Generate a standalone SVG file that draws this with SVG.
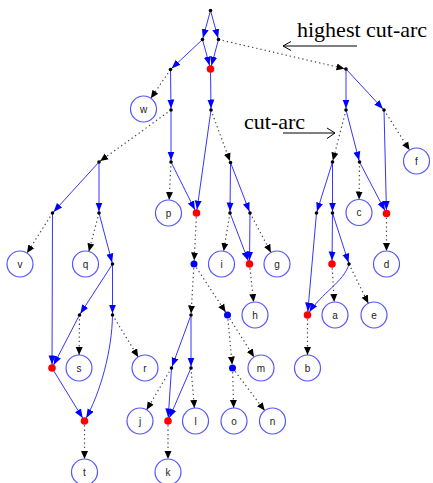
<svg xmlns="http://www.w3.org/2000/svg" width="433" height="483" viewBox="0 0 433 483">
<style>
.b{stroke:#3535ff;stroke-width:1;fill:none}
.k{stroke:#444;stroke-width:1.2;stroke-dasharray:1.3,3;fill:none}
.pt{fill:#000}
.rd{fill:#ff0000}
.bd{fill:#0000ff}
.c circle{fill:#fff;stroke:#5555ff;stroke-width:1.2}
.c text{font-family:"Liberation Sans",Arial,sans-serif;font-size:10px;fill:#222;text-anchor:middle}
.lbl{font-family:"Liberation Serif","Times New Roman",serif;font-size:22px;fill:#000}
.ar{stroke:#000;stroke-width:1;fill:none}
</style>
<defs>
<marker id="abP" viewBox="0 0 14 10" refX="10.5" refY="5" markerWidth="14" markerHeight="10" markerUnits="userSpaceOnUse" orient="auto"><path d="M0,1.5 L9,5 L0,8.5 z" fill="#0000ff"/></marker>
<marker id="abD" viewBox="0 0 20 10" refX="12.5" refY="5" markerWidth="20" markerHeight="10" markerUnits="userSpaceOnUse" orient="auto"><path d="M0,1.5 L9,5 L0,8.5 z" fill="#0000ff"/></marker>
<marker id="akP" viewBox="0 0 14 10" refX="9.5" refY="5" markerWidth="14" markerHeight="10" markerUnits="userSpaceOnUse" orient="auto"><path d="M0,1.5 L8,5 L0,8.5 z" fill="#000"/></marker>
<marker id="akD" viewBox="0 0 20 10" refX="11.5" refY="5" markerWidth="20" markerHeight="10" markerUnits="userSpaceOnUse" orient="auto"><path d="M0,1.5 L8,5 L0,8.5 z" fill="#000"/></marker>
<marker id="akC" viewBox="0 0 24 10" refX="21" refY="5" markerWidth="24" markerHeight="10" markerUnits="userSpaceOnUse" orient="auto"><path d="M0,1.5 L8,5 L0,8.5 z" fill="#000"/></marker>
</defs>
<g id="connectors">
<path class="b" d="M210.5,10.5 L202.5,39.5" marker-end="url(#abP)"/>
<path class="b" d="M210.5,10.5 L218.5,39.5" marker-end="url(#abP)"/>
<path class="b" d="M202.5,39.5 L210.5,69" marker-end="url(#abD)"/>
<path class="b" d="M218.5,39.5 L210.5,69" marker-end="url(#abD)"/>
<path class="b" d="M202.5,39.5 L170.5,69.5" marker-end="url(#abP)"/>
<path class="b" d="M170.5,69.5 L171,110" marker-end="url(#abP)"/>
<path class="b" d="M210.5,69 L211,110" marker-end="url(#abP)"/>
<path class="b" d="M346,69 L346,110" marker-end="url(#abP)"/>
<path class="b" d="M346,69 L384,110" marker-end="url(#abP)"/>
<path class="b" d="M171,110 L171,162" marker-end="url(#abP)"/>
<path class="b" d="M171,162 L196.5,213" marker-end="url(#abD)"/>
<path class="b" d="M211,110 L196.5,213" marker-end="url(#abD)"/>
<path class="b" d="M230.5,162.5 L230,213" marker-end="url(#abP)"/>
<path class="b" d="M230.5,162.5 L250,213" marker-end="url(#abP)"/>
<path class="b" d="M230,213 L249.5,264" marker-end="url(#abD)"/>
<path class="b" d="M250,213 L249.5,264" marker-end="url(#abD)"/>
<path class="b" d="M99,162 L52.5,213" marker-end="url(#abP)"/>
<path class="b" d="M99,162 L99,213" marker-end="url(#abP)"/>
<path class="b" d="M99,213 L112.5,264" marker-end="url(#abP)"/>
<path class="b" d="M52.5,213 L52,368" marker-end="url(#abD)"/>
<path class="b" d="M112.5,264 L79.5,315" marker-end="url(#abP)"/>
<path class="b" d="M112.5,264 L112.5,315" marker-end="url(#abP)"/>
<path class="b" d="M79.5,315 L52,368" marker-end="url(#abD)"/>
<path class="b" d="M52,368 L84.5,421" marker-end="url(#abD)"/>
<path class="b" d="M112.5,315 C112,350 101,392 84.5,421" marker-end="url(#abD)"/>
<path class="b" d="M191,315 L171.5,368" marker-end="url(#abP)"/>
<path class="b" d="M191,315 L191,368" marker-end="url(#abP)"/>
<path class="b" d="M171.5,368 L168,421" marker-end="url(#abD)"/>
<path class="b" d="M191,368 L168,421" marker-end="url(#abD)"/>
<path class="b" d="M346,110 L359.5,162" marker-end="url(#abP)"/>
<path class="b" d="M384,110 L386.5,213.5" marker-end="url(#abD)"/>
<path class="b" d="M359.5,162 L386.5,213.5" marker-end="url(#abD)"/>
<path class="b" d="M332.5,162 L316.5,213" marker-end="url(#abP)"/>
<path class="b" d="M332.5,162 L332.5,213" marker-end="url(#abP)"/>
<path class="b" d="M316.5,213 L307.5,315" marker-end="url(#abD)"/>
<path class="b" d="M332.5,213 L332,264" marker-end="url(#abD)"/>
<path class="b" d="M332.5,213 L349,264" marker-end="url(#abP)"/>
<path class="b" d="M349,264 C344,282 322,292 307.5,315" marker-end="url(#abD)"/>
<path class="k" d="M170.5,69.5 L143.5,109" marker-end="url(#akC)"/>
<path class="k" d="M218.5,39.5 L346,69" marker-end="url(#akP)"/>
<path class="k" d="M171,110 L99,162" marker-end="url(#akP)"/>
<path class="k" d="M211,110 L230.5,162.5" marker-end="url(#akP)"/>
<path class="k" d="M52.5,213 L20,264" marker-end="url(#akC)"/>
<path class="k" d="M99,213 L85.5,264" marker-end="url(#akC)"/>
<path class="k" d="M171,162 L168.5,213" marker-end="url(#akC)"/>
<path class="k" d="M196.5,213 L194,264" marker-end="url(#akD)"/>
<path class="k" d="M230,213 L221.5,264" marker-end="url(#akC)"/>
<path class="k" d="M250,213 L277,264" marker-end="url(#akC)"/>
<path class="k" d="M249.5,264 L255,315" marker-end="url(#akC)"/>
<path class="k" d="M79.5,315 L79,368" marker-end="url(#akC)"/>
<path class="k" d="M112.5,315 L145,368" marker-end="url(#akC)"/>
<path class="k" d="M84.5,421 L84.5,472" marker-end="url(#akC)"/>
<path class="k" d="M194,264 L191,315" marker-end="url(#akP)"/>
<path class="k" d="M194,264 L227.5,315" marker-end="url(#akD)"/>
<path class="k" d="M171.5,368 L140,421" marker-end="url(#akC)"/>
<path class="k" d="M191,368 L195.5,421" marker-end="url(#akC)"/>
<path class="k" d="M227.5,315 L261,368" marker-end="url(#akC)"/>
<path class="k" d="M227.5,315 L232.5,368" marker-end="url(#akD)"/>
<path class="k" d="M168,421 L168,472" marker-end="url(#akC)"/>
<path class="k" d="M232.5,368 L234,421" marker-end="url(#akC)"/>
<path class="k" d="M232.5,368 L272.5,421" marker-end="url(#akC)"/>
<path class="k" d="M346,110 L332.5,162" marker-end="url(#akP)"/>
<path class="k" d="M384,110 L416.5,161" marker-end="url(#akC)"/>
<path class="k" d="M359.5,162 L359,212.5" marker-end="url(#akC)"/>
<path class="k" d="M386.5,213.5 L386.5,264" marker-end="url(#akC)"/>
<path class="k" d="M332,264 L335,315" marker-end="url(#akC)"/>
<path class="k" d="M349,264 L374,315" marker-end="url(#akC)"/>
<path class="k" d="M307.5,315 L307.5,368" marker-end="url(#akC)"/>
</g>
<g id="annotations">
<text class="lbl" x="297" y="37">highest cut-arc</text>
<path class="ar" d="M357,46 L283,46 M291,41.5 L283,46 L291,50.5"/>
<text class="lbl" x="244" y="129">cut-arc</text>
<path class="ar" d="M283,133 L335,133 M327,128 L335,133 L327,138.5"/>
</g>
<g id="n_root"><circle class="pt" cx="210.5" cy="10.5" r="1.8"/></g>
<g id="n_A"><circle class="pt" cx="202.5" cy="39.5" r="1.8"/></g>
<g id="n_B"><circle class="pt" cx="218.5" cy="39.5" r="1.8"/></g>
<g id="n_R1"><circle class="rd" cx="210.5" cy="69" r="3.8"/></g>
<g id="n_C"><circle class="pt" cx="170.5" cy="69.5" r="1.8"/></g>
<g id="n_D"><circle class="pt" cx="346" cy="69" r="1.8"/></g>
<g id="n_K"><circle class="pt" cx="171" cy="110" r="1.8"/></g>
<g id="n_L"><circle class="pt" cx="211" cy="110" r="1.8"/></g>
<g id="n_U"><circle class="pt" cx="346" cy="110" r="1.8"/></g>
<g id="n_V"><circle class="pt" cx="384" cy="110" r="1.8"/></g>
<g id="n_E"><circle class="pt" cx="99" cy="162" r="1.8"/></g>
<g id="n_M"><circle class="pt" cx="171" cy="162" r="1.8"/></g>
<g id="n_N"><circle class="pt" cx="230.5" cy="162.5" r="1.8"/></g>
<g id="n_W"><circle class="pt" cx="332.5" cy="162" r="1.8"/></g>
<g id="n_X"><circle class="pt" cx="359.5" cy="162" r="1.8"/></g>
<g id="n_F"><circle class="pt" cx="52.5" cy="213" r="1.8"/></g>
<g id="n_G"><circle class="pt" cx="99" cy="213" r="1.8"/></g>
<g id="n_R4"><circle class="rd" cx="196.5" cy="213" r="3.8"/></g>
<g id="n_O"><circle class="pt" cx="230" cy="213" r="1.8"/></g>
<g id="n_P"><circle class="pt" cx="250" cy="213" r="1.8"/></g>
<g id="n_Y"><circle class="pt" cx="316.5" cy="213" r="1.8"/></g>
<g id="n_Z"><circle class="pt" cx="332.5" cy="213" r="1.8"/></g>
<g id="n_R7"><circle class="rd" cx="386.5" cy="213.5" r="3.8"/></g>
<g id="n_H"><circle class="pt" cx="112.5" cy="264" r="1.8"/></g>
<g id="n_BL1"><circle class="bd" cx="194" cy="264" r="3.5"/></g>
<g id="n_R5"><circle class="rd" cx="249.5" cy="264" r="3.8"/></g>
<g id="n_R8"><circle class="rd" cx="332" cy="264" r="3.8"/></g>
<g id="n_AA"><circle class="pt" cx="349" cy="264" r="1.8"/></g>
<g id="n_I"><circle class="pt" cx="79.5" cy="315" r="1.8"/></g>
<g id="n_J"><circle class="pt" cx="112.5" cy="315" r="1.8"/></g>
<g id="n_Q"><circle class="pt" cx="191" cy="315" r="1.8"/></g>
<g id="n_BL2"><circle class="bd" cx="227.5" cy="315" r="3.5"/></g>
<g id="n_R9"><circle class="rd" cx="307.5" cy="315" r="3.8"/></g>
<g id="n_R2"><circle class="rd" cx="52" cy="368" r="3.8"/></g>
<g id="n_S"><circle class="pt" cx="171.5" cy="368" r="1.8"/></g>
<g id="n_T"><circle class="pt" cx="191" cy="368" r="1.8"/></g>
<g id="n_BL3"><circle class="bd" cx="232.5" cy="368" r="3.5"/></g>
<g id="n_R3"><circle class="rd" cx="84.5" cy="421" r="3.8"/></g>
<g id="n_R6"><circle class="rd" cx="168" cy="421" r="3.8"/></g>
<g id="w" class="c"><circle cx="143.5" cy="109" r="13"/><text x="143.5" y="112.5">w</text></g>
<g id="f" class="c"><circle cx="416.5" cy="161" r="13"/><text x="416.5" y="164.5">f</text></g>
<g id="p" class="c"><circle cx="168.5" cy="213" r="13"/><text x="168.5" y="216.5">p</text></g>
<g id="c" class="c"><circle cx="359" cy="212.5" r="13"/><text x="359" y="216">c</text></g>
<g id="v" class="c"><circle cx="20" cy="264" r="13"/><text x="20" y="267.5">v</text></g>
<g id="q" class="c"><circle cx="85.5" cy="264" r="13"/><text x="85.5" y="267.5">q</text></g>
<g id="i" class="c"><circle cx="221.5" cy="264" r="13"/><text x="221.5" y="267.5">i</text></g>
<g id="g" class="c"><circle cx="277" cy="264" r="13"/><text x="277" y="267.5">g</text></g>
<g id="d" class="c"><circle cx="386.5" cy="264" r="13"/><text x="386.5" y="267.5">d</text></g>
<g id="h" class="c"><circle cx="255" cy="315" r="13"/><text x="255" y="318.5">h</text></g>
<g id="a" class="c"><circle cx="335" cy="315" r="13"/><text x="335" y="318.5">a</text></g>
<g id="e" class="c"><circle cx="374" cy="315" r="13"/><text x="374" y="318.5">e</text></g>
<g id="s" class="c"><circle cx="79" cy="368" r="13"/><text x="79" y="371.5">s</text></g>
<g id="r" class="c"><circle cx="145" cy="368" r="13"/><text x="145" y="371.5">r</text></g>
<g id="m" class="c"><circle cx="261" cy="368" r="13"/><text x="261" y="371.5">m</text></g>
<g id="b" class="c"><circle cx="307.5" cy="368" r="13"/><text x="307.5" y="371.5">b</text></g>
<g id="j" class="c"><circle cx="140" cy="421" r="13"/><text x="140" y="424.5">j</text></g>
<g id="l" class="c"><circle cx="195.5" cy="421" r="13"/><text x="195.5" y="424.5">l</text></g>
<g id="o" class="c"><circle cx="234" cy="421" r="13"/><text x="234" y="424.5">o</text></g>
<g id="n" class="c"><circle cx="272.5" cy="421" r="13"/><text x="272.5" y="424.5">n</text></g>
<g id="t" class="c"><circle cx="84.5" cy="472" r="13"/><text x="84.5" y="475.5">t</text></g>
<g id="k" class="c"><circle cx="168" cy="472" r="13"/><text x="168" y="475.5">k</text></g>
</svg>
